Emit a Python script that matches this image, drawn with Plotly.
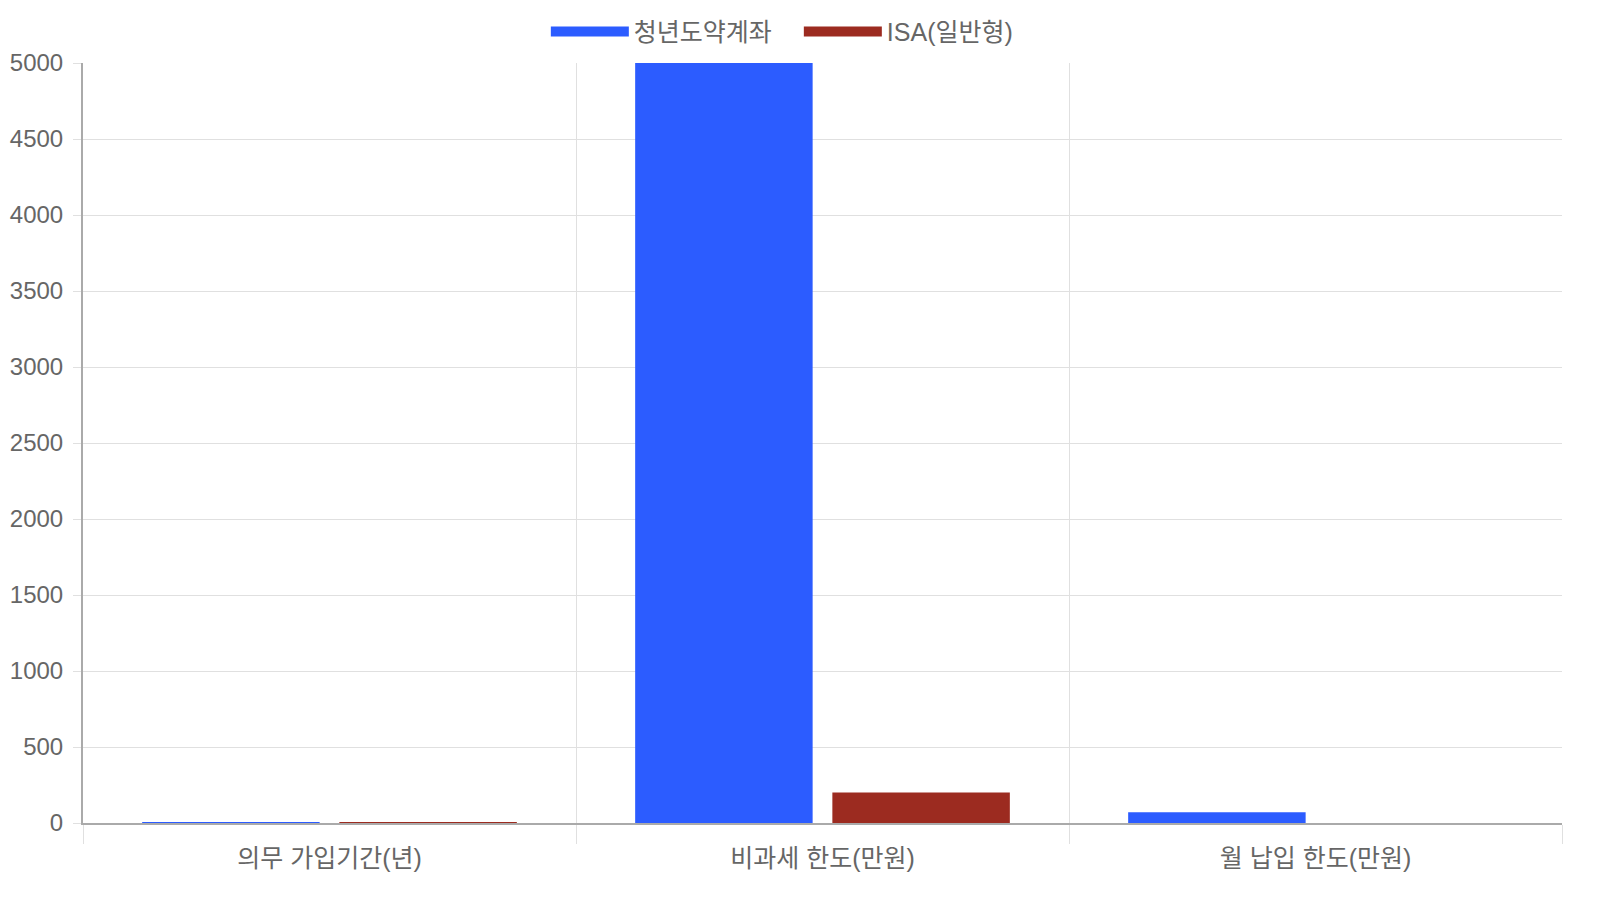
import plotly.graph_objects as go

categories = ["의무 가입기간(년)", "비과세 한도(만원)", "월 납입 한도(만원)"]
youth_account = [5, 5000, 70]
isa_general = [3, 200, 0]
y_ticks = list(range(0, 5001, 500))

series = [("청년도약계좌", youth_account, "#2c5cff"),
          ("ISA(일반형)", isa_general, "#9c2b20")]

fig = go.Figure()
for name, values, color in series:
    fig.add_trace(go.Bar(name=name, x=categories, y=values, showlegend=False,
                         marker=dict(color=color, line=dict(width=0))))
# legend entries with wide swatches, like the original
for name, values, color in series:
    fig.add_trace(go.Scatter(name=name, x=[None], y=[None], mode="lines",
                             line=dict(color=color, width=23)))

font = "Liberation Sans, Arial, Noto Sans CJK KR, sans-serif"

fig.update_layout(
    width=1584, height=884,
    margin=dict(l=75, r=30, t=55, b=69, autoexpand=False),
    paper_bgcolor="white", plot_bgcolor="white",
    font=dict(family=font, size=24, color="#666666"),
    barmode="group", bargap=0.2, bargroupgap=0.1,
    legend=dict(orientation="h", x=0.484, xanchor="center", y=1.041, yanchor="middle",
                font=dict(size=25, color="#666666"), itemwidth=78,
                entrywidth=160, entrywidthmode="pixels"),
    xaxis=dict(type="category", tickson="boundaries", ticks="outside", ticklen=19,
               tickcolor="#e0e0e0", showgrid=True, gridcolor="#e0e0e0", gridwidth=1,
               showline=True, linecolor="#aaaaaa", linewidth=2,
               ticklabelstandoff=12, tickfont=dict(size=25)),
    yaxis=dict(range=[0, 5000], tickvals=y_ticks, ticks="outside", ticklen=8,
               tickcolor="#e0e0e0", showgrid=True, gridcolor="#e0e0e0", gridwidth=1,
               showline=True, linecolor="#aaaaaa", linewidth=2, zeroline=False,
               ticklabelstandoff=5, tickfont=dict(size=24)),
)

fig.write_html("out.html")
